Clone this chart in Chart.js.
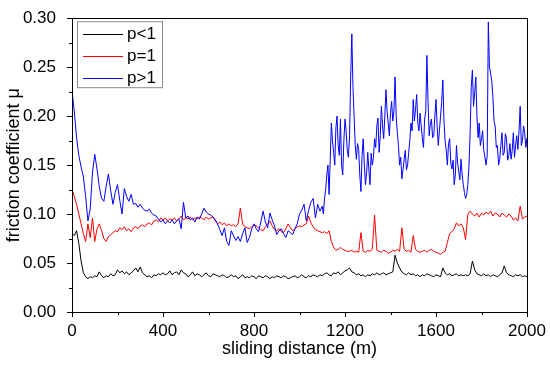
<!DOCTYPE html>
<html>
<head>
<meta charset="utf-8">
<script src="https://cdn.jsdelivr.net/npm/chart.js@4.4.0/dist/chart.umd.min.js"></script>
<style>
  html, body { margin: 0; padding: 0; background: #fff; }
  #wrap { width: 550px; height: 365px; }
</style>
</head>
<body>
<div id="wrap"><canvas id="friction-chart"></canvas></div>
<script>
/* friction coefficient vs sliding distance */

// sliding distance (m)
const distance = [
  0, 2, 10, 20, 30, 40, 50, 60, 70, 80, 90,
  100, 110, 120, 130, 140, 150, 160, 170, 180, 190,
  200, 210, 220, 230, 240, 250, 260, 270, 280, 290,
  300, 310, 320, 330, 340, 350, 360, 370, 380, 390,
  400, 410, 420, 430, 440, 450, 460, 470, 480, 490,
  500, 510, 520, 530, 540, 550, 560, 570, 580, 590,
  600, 610, 620, 630, 640, 650, 660, 670, 680, 690,
  700, 710, 720, 730, 740, 750, 760, 770, 780, 790,
  800, 810, 820, 830, 840, 850, 860, 870, 880, 890,
  900, 910, 920, 930, 940, 950, 960, 970, 980, 990,
  1000, 1010, 1020, 1030, 1040, 1050, 1060, 1070, 1080, 1090,
  1100, 1110, 1120, 1130, 1140, 1150, 1160, 1170, 1180, 1190,
  1200, 1210, 1220, 1230, 1240, 1250, 1260, 1270, 1280, 1290,
  1300, 1310, 1320, 1330, 1340, 1350, 1360, 1370, 1380, 1390,
  1400, 1410, 1420, 1430, 1440, 1450, 1460, 1470, 1480, 1490,
  1500, 1510, 1520, 1530, 1540, 1550, 1560, 1570, 1580, 1590,
  1600, 1610, 1620, 1630, 1640, 1650, 1660, 1670, 1680, 1690,
  1700, 1710, 1720, 1730, 1740, 1750, 1760, 1770, 1780, 1790,
  1800, 1810, 1820, 1830, 1840, 1850, 1860, 1870, 1880, 1890,
  1900, 1910, 1920, 1930, 1940, 1950, 1960, 1970, 1980, 1990,
  2000
];

// p<1
const muLow = [
  0, 0.080, 0.078, 0.083, 0.070, 0.052, 0.040, 0.036, 0.034, 0.036, 0.035,
  0.037, 0.036, 0.041, 0.037, 0.035, 0.037, 0.036, 0.039, 0.037, 0.038,
  0.043, 0.040, 0.042, 0.039, 0.041, 0.038, 0.040, 0.042, 0.045, 0.041,
  0.046, 0.040, 0.038, 0.036, 0.037, 0.035, 0.038, 0.037, 0.039, 0.038,
  0.040, 0.038, 0.039, 0.042, 0.038, 0.040, 0.041, 0.038, 0.043, 0.040,
  0.039, 0.036, 0.038, 0.041, 0.037, 0.039, 0.038, 0.036, 0.038, 0.040,
  0.037, 0.036, 0.039, 0.038, 0.037, 0.036, 0.038, 0.037, 0.035, 0.036,
  0.038, 0.036, 0.037, 0.034, 0.036, 0.038, 0.035, 0.036, 0.035, 0.037,
  0.036, 0.034, 0.037, 0.036, 0.035, 0.037, 0.036, 0.034, 0.036, 0.035,
  0.037, 0.036, 0.035, 0.037, 0.036, 0.034, 0.035, 0.036, 0.037, 0.035,
  0.036, 0.038, 0.036, 0.035, 0.037, 0.036, 0.038, 0.037, 0.036, 0.038,
  0.037, 0.039, 0.040, 0.038, 0.037, 0.040, 0.039, 0.041, 0.038, 0.040,
  0.042, 0.043, 0.045, 0.041, 0.040, 0.038, 0.039, 0.037, 0.038, 0.036,
  0.038, 0.037, 0.039, 0.038, 0.040, 0.038, 0.039, 0.040, 0.038, 0.039,
  0.040, 0.041, 0.058, 0.050, 0.045, 0.041, 0.039, 0.038, 0.040, 0.038,
  0.039, 0.037, 0.038, 0.036, 0.038, 0.037, 0.039, 0.038, 0.037, 0.036,
  0.038, 0.037, 0.036, 0.045, 0.040, 0.038, 0.039, 0.037, 0.038, 0.039,
  0.037, 0.038, 0.037, 0.038, 0.037, 0.039, 0.052, 0.043, 0.039, 0.038,
  0.037, 0.039, 0.037, 0.038, 0.036, 0.038, 0.037, 0.036, 0.038, 0.040,
  0.047, 0.040, 0.038, 0.037, 0.036, 0.038, 0.037, 0.038, 0.036, 0.037,
  0.036
];

// p=1
const muEqual = [
  0, 0.124, 0.118, 0.110, 0.100, 0.090, 0.080, 0.072, 0.090, 0.076, 0.096,
  0.072, 0.085, 0.090, 0.083, 0.075, 0.072, 0.077, 0.079, 0.081, 0.083,
  0.082, 0.086, 0.084, 0.087, 0.083, 0.085, 0.082, 0.086, 0.087, 0.085,
  0.088, 0.089, 0.087, 0.090, 0.091, 0.089, 0.093, 0.094, 0.092, 0.096,
  0.094, 0.096, 0.093, 0.095, 0.094, 0.096, 0.093, 0.095, 0.098, 0.094,
  0.096, 0.095, 0.097, 0.094, 0.096, 0.095, 0.097, 0.096, 0.094, 0.097,
  0.095, 0.096, 0.097, 0.093, 0.090, 0.092, 0.089, 0.091, 0.088, 0.090,
  0.088, 0.089, 0.087, 0.090, 0.106, 0.090, 0.087, 0.086, 0.085, 0.087,
  0.089, 0.088, 0.086, 0.084, 0.083, 0.087, 0.090, 0.093, 0.088, 0.084,
  0.083, 0.085, 0.082, 0.081, 0.085, 0.090, 0.086, 0.083, 0.085, 0.087,
  0.088, 0.087, 0.089, 0.090, 0.098, 0.091, 0.087, 0.084, 0.083, 0.082,
  0.081, 0.082, 0.080, 0.083, 0.072, 0.066, 0.063, 0.064, 0.066, 0.064,
  0.063, 0.062, 0.062, 0.063, 0.061, 0.062, 0.061, 0.081, 0.062, 0.061,
  0.063, 0.062, 0.064, 0.099, 0.063, 0.062, 0.061, 0.063, 0.062, 0.060,
  0.061, 0.063, 0.062, 0.064, 0.062, 0.086, 0.064, 0.062, 0.063, 0.061,
  0.078, 0.064, 0.062, 0.061, 0.062, 0.063, 0.061, 0.063, 0.064, 0.062,
  0.061, 0.060, 0.059, 0.061, 0.062, 0.071, 0.080, 0.082, 0.085, 0.091,
  0.088, 0.090, 0.086, 0.074, 0.100, 0.103, 0.100, 0.098, 0.101, 0.097,
  0.101, 0.099, 0.102, 0.100, 0.103, 0.098, 0.101, 0.100, 0.097, 0.101,
  0.099, 0.097, 0.100, 0.098, 0.094, 0.096, 0.093, 0.108, 0.095, 0.097,
  0.098
];

// p>1
const muHigh = [
  0, 0.222, 0.205, 0.178, 0.160, 0.148, 0.138, 0.118, 0.093, 0.105, 0.142,
  0.161, 0.146, 0.128, 0.116, 0.113, 0.128, 0.141, 0.124, 0.110, 0.122,
  0.130, 0.114, 0.100, 0.126, 0.118, 0.113, 0.120, 0.110, 0.111, 0.107,
  0.110, 0.106, 0.104, 0.103, 0.105, 0.101, 0.099, 0.098, 0.095, 0.092,
  0.094, 0.090, 0.093, 0.091, 0.094, 0.090, 0.093, 0.095, 0.085, 0.112,
  0.096, 0.098, 0.094, 0.096, 0.092, 0.097, 0.095, 0.100, 0.106, 0.102,
  0.100, 0.099, 0.097, 0.094, 0.090, 0.084, 0.078, 0.086, 0.072, 0.068,
  0.083, 0.078, 0.073, 0.077, 0.072, 0.080, 0.086, 0.071, 0.076, 0.085,
  0.090, 0.085, 0.082, 0.092, 0.103, 0.092, 0.086, 0.101, 0.094, 0.088,
  0.079, 0.083, 0.085, 0.080, 0.076, 0.083, 0.081, 0.079, 0.085, 0.090,
  0.100, 0.104, 0.110, 0.093, 0.104, 0.112, 0.116, 0.096, 0.110, 0.103,
  0.108, 0.116, 0.140, 0.120, 0.193, 0.163, 0.188, 0.170, 0.197, 0.140,
  0.197, 0.165, 0.180, 0.284, 0.200, 0.156, 0.166, 0.123, 0.177, 0.130,
  0.163, 0.130, 0.150, 0.177, 0.190, 0.163, 0.210, 0.177, 0.227, 0.193,
  0.203, 0.195, 0.240, 0.183, 0.150, 0.136, 0.156, 0.145, 0.163, 0.193,
  0.217, 0.207, 0.193, 0.203, 0.177, 0.197, 0.262, 0.180, 0.197, 0.180,
  0.217, 0.170, 0.200, 0.237, 0.175, 0.150, 0.177, 0.146, 0.130, 0.170,
  0.143, 0.156, 0.130, 0.116, 0.130, 0.183, 0.247, 0.224, 0.200, 0.193,
  0.177, 0.165, 0.150, 0.296, 0.244, 0.220, 0.190, 0.170, 0.156, 0.183,
  0.163, 0.177, 0.160, 0.156, 0.183, 0.170, 0.166, 0.210, 0.175, 0.183,
  0.178
];

// extra p>1 readings in the noisy part (1105 ... 1995 m)
const distanceFine = [
  1105, 1115, 1125, 1135, 1145, 1155, 1165, 1175, 1185, 1195,
  1205, 1215, 1225, 1235, 1245, 1255, 1265, 1275, 1285, 1295,
  1305, 1315, 1325, 1335, 1345, 1355, 1365, 1375, 1385, 1395,
  1405, 1415, 1425, 1435, 1445, 1455, 1465, 1475, 1485, 1495,
  1505, 1515, 1525, 1535, 1545, 1555, 1565, 1575, 1585, 1595,
  1605, 1615, 1625, 1635, 1645, 1655, 1665, 1675, 1685, 1695,
  1705, 1715, 1725, 1735, 1745, 1755, 1765, 1775, 1785, 1795,
  1805, 1815, 1825, 1835, 1845, 1855, 1865, 1875, 1885, 1895,
  1905, 1915, 1925, 1935, 1945, 1955, 1965, 1975, 1985, 1995
];
const muHighFine = [
  0.100, 0.125, 0.150, 0.155, 0.175, 0.150, 0.200, 0.160, 0.150, 0.175,
  0.185, 0.158, 0.240, 0.230, 0.170, 0.172, 0.140, 0.160, 0.150, 0.142,
  0.145, 0.162, 0.158, 0.168, 0.198, 0.180, 0.190, 0.200, 0.205, 0.180,
  0.215, 0.205, 0.200, 0.170, 0.158, 0.145, 0.165, 0.150, 0.175, 0.185,
  0.195, 0.222, 0.185, 0.190, 0.168, 0.205, 0.215, 0.192, 0.178, 0.200,
  0.190, 0.185, 0.215, 0.195, 0.165, 0.172, 0.152, 0.155, 0.140, 0.152,
  0.135, 0.140, 0.122, 0.120, 0.150, 0.230, 0.210, 0.240, 0.178, 0.170,
  0.185, 0.158, 0.160, 0.250, 0.236, 0.195, 0.168, 0.150, 0.170, 0.160,
  0.182, 0.155, 0.172, 0.165, 0.158, 0.180, 0.185, 0.170, 0.190, 0.168
];

const seriesNames = ["p<1", "p=1", "p>1"];
const seriesColors = ["#000000", "#ff0000", "#0000ff"];

const fontName = "'Liberation Sans', Arial, sans-serif";

// p>1 points: both sets of readings, in distance order
const highPoints = distance.map((d, i) => ({ x: d, y: muHigh[i] }))
    .concat(distanceFine.map((d, i) => ({ x: d, y: muHighFine[i] })))
    .sort((a, b) => a.x - b.x);

/***** frame, minor/major ticks and legend box *****/
const frameAndLegend = {
    id: 'frameAndLegend',
    afterDraw(chart) {
        const ctx = chart.ctx;
        const area = chart.chartArea;
        const xs = chart.scales.x;
        const ys = chart.scales.y;
        ctx.save();
        ctx.strokeStyle = '#000';
        ctx.lineWidth = 1;
        // box round the plot
        ctx.strokeRect(Math.round(area.left) + 0.5, Math.round(area.top) + 0.5,
            Math.round(area.right - area.left), Math.round(area.bottom - area.top));

        // x ticks, major every 400, minor every 200
        ctx.beginPath();
        for (let v = 0; v <= 2000; v += 200) {
            const px = Math.round(xs.getPixelForValue(v)) + 0.5;
            const len = (v % 400 === 0) ? 5 : 3;
            ctx.moveTo(px, area.bottom);
            ctx.lineTo(px, area.bottom + len);
        }
        // y ticks, major every 0.05, minor every 0.025
        for (let i = 0; i <= 12; i++) {
            const py = Math.round(ys.getPixelForValue(i * 0.025)) + 0.5;
            const len = (i % 2 === 0) ? 5 : 3;
            ctx.moveTo(area.left, py);
            ctx.lineTo(area.left - len, py);
        }
        ctx.stroke();

        // legend
        const lx = area.left + 5, ly = area.top + 3;
        ctx.strokeStyle = '#8a8a8a';
        ctx.strokeRect(lx + 0.5, ly + 0.5, 85, 66);
        ctx.font = '17px ' + fontName;
        ctx.textBaseline = 'middle';
        ctx.fillStyle = '#000';
        seriesNames.forEach((name, i) => {
            const y = Math.round(ly + 13 + i * 22) + 0.5;
            ctx.strokeStyle = seriesColors[i];
            ctx.beginPath();
            ctx.moveTo(lx + 6, y);
            ctx.lineTo(lx + 46, y);
            ctx.stroke();
            ctx.fillText(name, lx + 50, y);
        });
        ctx.restore();
    }
};

const frictionCanvas = document.getElementById("friction-chart");

const frictionData = {
    labels: distance,
    datasets: [
        { label: seriesNames[0], data: muLow, borderColor: seriesColors[0], order: 3 },
        { label: seriesNames[1], data: muEqual, borderColor: seriesColors[1], order: 2 },
        { label: seriesNames[2], data: highPoints, borderColor: seriesColors[2], order: 1 }
    ].map(ds => Object.assign(ds, { borderWidth: 1, pointRadius: 0, tension: 0 }))
};

const frictionOptions = {
    responsive: true,
    maintainAspectRatio: false,
    animation: false,
    layout: {
        padding: { top: 14, right: 23, left: 0, bottom: 0 }
    },
    scales: {
        x: {
            type: 'linear',
            min: 0,
            max: 2000,
            grid: { display: false },
            border: { display: true, color: '#000', width: 1 },
            ticks: {
                stepSize: 400,
                autoSkip: false,
                maxRotation: 0,
                padding: 1,
                color: '#000',
                font: { family: fontName, size: 17 },
                callback: v => String(v)
            },
            title: {
                display: true,
                text: 'sliding distance (m)',
                color: '#000',
                font: { family: fontName, size: 18 },
                padding: { top: 0, bottom: 5 }
            },
            afterFit(scale) { scale.height = 53; }
        },
        y: {
            min: 0,
            max: 0.30,
            grid: { display: false },
            border: { display: true, color: '#000', width: 1 },
            ticks: {
                stepSize: 0.05,
                padding: 8,
                color: '#000',
                font: { family: fontName, size: 17 },
                callback: v => v.toFixed(2)
            },
            title: {
                display: true,
                text: 'friction coefficient μ',
                color: '#000',
                font: { family: fontName, size: 18 },
                padding: { top: 3, bottom: 0 }
            },
            afterFit(scale) { scale.width = 72; }
        }
    },
    plugins: {
        legend: { display: false },
        tooltip: { enabled: false }
    }
};

let frictionChart = new Chart(frictionCanvas, {
    type: 'line',
    data: frictionData,
    options: frictionOptions,
    plugins: [frameAndLegend]
});
</script>
</body>
</html>
